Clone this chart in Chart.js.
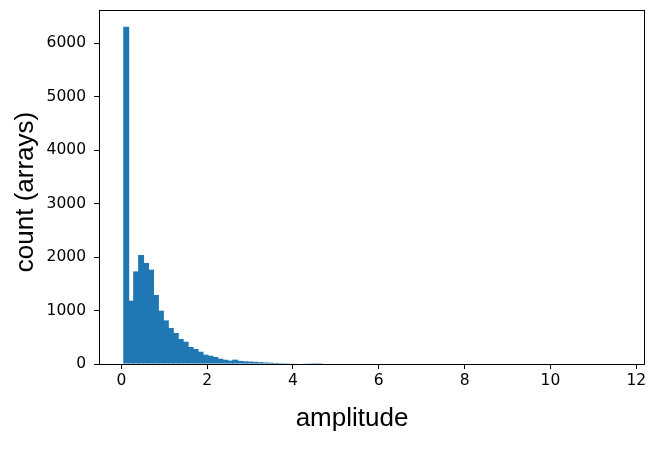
<!DOCTYPE html>
<html>
<head>
<meta charset="utf-8">
<script src="https://cdn.jsdelivr.net/npm/chart.js@4"></script>
<style>
  html, body { margin: 0; padding: 0; background: #fff; }
  #wrap { width: 653px; height: 450px; }
</style>
</head>
<body>
<div id="wrap"><canvas id="chart" width="653" height="450"></canvas></div>
<script>
// histogram bins
const binStart = 0.057;
const binWidth = 0.11545;
const counts = [
  6305, 1184, 1732, 2039, 1890, 1764, 1291, 997, 816, 674,
  580, 468, 417, 318, 281, 230, 174, 155, 131, 99,
  80, 64, 82, 58, 50, 46, 40, 34, 29, 25,
  21, 18, 15, 13, 11, 9, 7, 5, 3, 2,
  0, 0, 0, 0, 0, 0, 0, 0, 0, 0,
  0, 0, 0, 0, 0, 0, 0, 0, 0, 0,
  0, 0, 0, 0, 0, 0, 0, 0, 0, 0,
  0, 0, 0, 0, 0, 0, 0, 0, 0, 0,
  0, 0, 0, 0, 0, 0, 0, 0, 0, 0,
  0, 0, 0, 0, 0, 0, 0, 0, 0, 0
];

// axis ticks and labels
const xTicks = [0, 2, 4, 6, 8, 10, 12];
const yTicks = [0, 1000, 2000, 3000, 4000, 5000, 6000];
const xLabel = 'amplitude';
const yLabel = 'count (arrays)';

const BAR_COLOR = '#1f77b4';
const TICK_FONT = { family: 'DejaVu Sans', size: 15.5 };
const TITLE_FONT = '26px "Liberation Sans", Arial, sans-serif';

const points = counts.map((c, i) => ({ x: binStart + binWidth * (i + 0.5), y: c }));

// frame around the plot area + axis titles
const framePlugin = {
  id: 'frame',
  afterDraw(chart) {
    const { ctx, chartArea: a } = chart;
    ctx.save();
    ctx.strokeStyle = '#000';
    ctx.lineWidth = 1;
    ctx.strokeRect(Math.round(a.left) + 0.5, Math.round(a.top) + 0.5,
      Math.round(a.right - a.left), Math.round(a.bottom - a.top));

    ctx.fillStyle = '#000';
    ctx.font = TITLE_FONT;
    ctx.textAlign = 'center';
    ctx.textBaseline = 'alphabetic';
    ctx.fillText(xLabel, 352, 426);

    ctx.translate(33, 192);
    ctx.rotate(-Math.PI / 2);
    ctx.fillText(yLabel, 0, 0);
    ctx.restore();
  }
};

const gridOpts = {
  display: true,
  offset: false,
  drawOnChartArea: false,
  drawTicks: true,
  tickLength: 5,
  tickColor: '#000',
  tickWidth: 1
};

new Chart(document.getElementById('chart'), {
  type: 'bar',
  data: {
    datasets: [{
      data: points,
      backgroundColor: BAR_COLOR,
      borderWidth: 0,
      barPercentage: 1.2,
      categoryPercentage: 1.0
    }]
  },
  options: {
    responsive: false,
    animation: false,
    devicePixelRatio: 1,
    layout: { padding: { top: 10, right: 9, left: 0, bottom: 0 } },
    plugins: { legend: { display: false }, tooltip: { enabled: false } },
    scales: {
      x: {
        type: 'linear',
        offset: false,
        min: -0.52,
        max: 12.18,
        afterFit(scale) {
          scale.height = 86;
          scale.paddingLeft = 0;
          scale.paddingRight = 0;
        },
        afterBuildTicks(scale) { scale.ticks = xTicks.map(v => ({ value: v })); },
        ticks: {
          color: '#000',
          font: TICK_FONT,
          padding: 3,
          maxRotation: 0,
          autoSkip: false,
          callback: v => String(v)
        },
        grid: gridOpts,
        border: { display: true, color: '#000', width: 1 }
      },
      y: {
        min: 0,
        max: 6620,
        afterFit(scale) {
          scale.width = 99;
          scale.paddingTop = 0;
          scale.paddingBottom = 0;
        },
        afterBuildTicks(scale) { scale.ticks = yTicks.map(v => ({ value: v })); },
        ticks: {
          color: '#000',
          font: TICK_FONT,
          padding: 8,
          autoSkip: false,
          callback: v => String(v)
        },
        grid: gridOpts,
        border: { display: true, color: '#000', width: 1 }
      }
    }
  },
  plugins: [framePlugin]
});
</script>
</body>
</html>
